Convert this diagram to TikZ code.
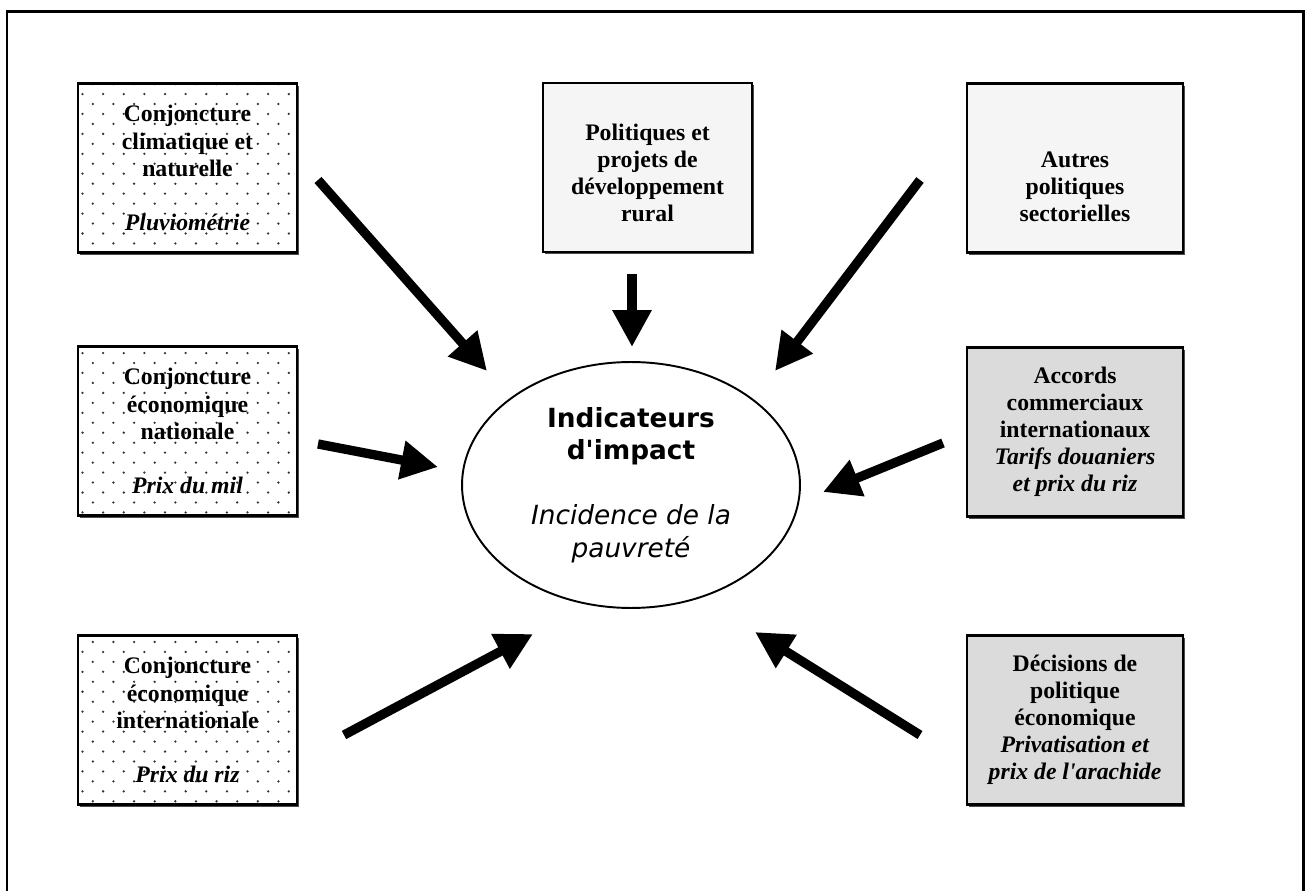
\documentclass[tikz,border=0pt]{standalone}
\usepackage{fontspec}
\setmainfont{Liberation Serif}
\newfontfamily\ellfont{DejaVu Sans}
\usetikzlibrary{shapes.geometric,arrows.meta,patterns,shadows}

\pgfdeclarepatternformonly{sparsedots}{\pgfqpoint{-1pt}{-1pt}}{\pgfqpoint{7pt}{7pt}}{\pgfqpoint{11.74pt}{11.34pt}}{%
  \pgfpathcircle{\pgfqpoint{0pt}{0pt}}{0.72pt}%
  \pgfpathcircle{\pgfqpoint{5.87pt}{5.67pt}}{0.72pt}%
  \pgfusepath{fill}}

\begin{document}
\begin{tikzpicture}[x=0.02cm,y=-0.02cm,
  box/.style={draw,line width=1.3pt,align=center,inner sep=0pt,
    minimum width=4.38cm,minimum height=3.38cm,
    font=\fontsize{13.5}{15.4}\selectfont\bfseries,
    drop shadow={shadow xshift=1.2pt,shadow yshift=-1.2pt,fill=black!70,opacity=1}},
  dotbox/.style={box,preaction={fill=white},pattern=sparsedots,pattern color=black!80},
  palebox/.style={box,fill=black!4},
  greybox/.style={box,fill=black!14,minimum width=4.32cm},
  bigarrow/.style={line width=5.3pt,-{Triangle[length=21pt,width=21pt]}}]
\useasboundingbox (0,0) rectangle (1305,891);
\draw[line width=1.7pt] (7,12) rectangle (1303.5,920);

\node[dotbox] (clim) at (187.5,168) {Conjoncture\\climatique et\\naturelle\\[15.4pt]\textit{Pluviométrie}};
\node[dotbox] (nat) at (187.5,431) {Conjoncture\\économique\\nationale\\[15.4pt]\textit{Prix du mil}};
\node[dotbox] (inter) at (187.5,720) {Conjoncture\\économique\\internationale\\[15.4pt]\textit{Prix du riz}};
\node[palebox,minimum width=4.18cm] (rural) at (647.5,167.5) {\mbox{}\\Politiques et\\projets de\\développement\\rural};
\node[palebox,minimum width=4.32cm] (autres) at (1075,168) {\mbox{}\\\mbox{}\\Autres\\politiques\\sectorielles};
\node[greybox] (accords) at (1075,432) {Accords\\commerciaux\\internationaux\\\textit{Tarifs douaniers}\\\textit{et prix du riz}};
\node[greybox] (decisions) at (1075,720) {Décisions de\\politique\\économique\\\textit{Privatisation et}\\\textit{prix de l\textquotesingle arachide}};

\node[draw,ellipse,line width=1.1pt,minimum width=6.76cm,minimum height=4.92cm,inner sep=0pt,align=center,
  font=\ellfont\fontsize{15}{18.5}\selectfont] (impact) at (631,485)
  {\textbf{Indicateurs}\\\textbf{d'impact}\\[18.5pt]\textit{Incidence de la}\\\textit{pauvreté}};

\coordinate (climS) at (318,180);
\coordinate (climE) at (487,371);
\coordinate (ruralS) at (632,274);
\coordinate (ruralE) at (632,347);
\coordinate (autresS) at (920,180);
\coordinate (autresE) at (775,371);
\coordinate (natS) at (318,444);
\coordinate (natE) at (438,467);
\coordinate (accordsS) at (943,443);
\coordinate (accordsE) at (823,492);
\coordinate (interS) at (344,735);
\coordinate (interE) at (533,634);
\coordinate (decisionsS) at (920,735);
\coordinate (decisionsE) at (755,632);

\draw[bigarrow] (climS) -- (climE);
\draw[bigarrow] (ruralS) -- (ruralE);
\draw[bigarrow] (autresS) -- (autresE);
\draw[bigarrow] (natS) -- (natE);
\draw[bigarrow] (accordsS) -- (accordsE);
\draw[bigarrow] (interS) -- (interE);
\draw[bigarrow] (decisionsS) -- (decisionsE);
\end{tikzpicture}
\end{document}
